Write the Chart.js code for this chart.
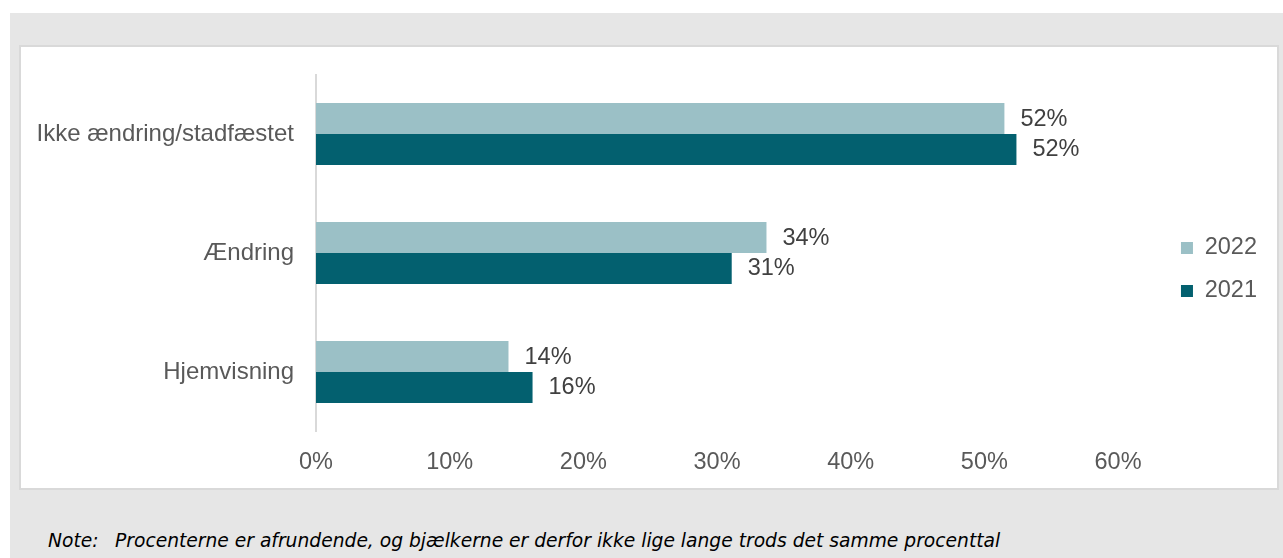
<!DOCTYPE html>
<html>
<head>
<meta charset="utf-8">
<script src="https://cdn.jsdelivr.net/npm/chart.js@4.4.1/dist/chart.umd.min.js"></script>
<style>
    body { margin: 0; background: #fff; width: 1283px; height: 558px; overflow: hidden; position: relative; }
    .frame { position: absolute; left: 10px; top: 13px; width: 1273px; height: 545px; background: #e6e6e6; }
    .panel { position: absolute; left: 19px; top: 45px; width: 1260px; height: 445px; box-sizing: border-box;
        border: 2px solid #d9d9d9; background: #fff; }
    .panel canvas { position: absolute; left: 0; top: 0; }
    .note { position: absolute; top: 530px; font: italic 18.7px "DejaVu Sans", Verdana, sans-serif;
        color: #000; white-space: nowrap; }
</style>
</head>
<body>
<div class="frame"></div>
<div class="panel"><canvas id="chart" width="1256" height="441"></canvas></div>
<div class="note" style="left: 48px">Note:</div>
<div class="note" style="left: 115px">Procenterne er afrundende, og bjælkerne er derfor ikke lige lange trods det samme procenttal</div>
<script>
const categories = ['Ikke ændring/stadfæstet', 'Ændring', 'Hjemvisning'];
const values2022 = [51.5, 33.7, 14.4];
const values2021 = [52.4, 31.1, 16.2];
const seriesNames = ['2022', '2021'];
const tickValues = [0, 10, 20, 30, 40, 50, 60];

const FONT = 'Liberation Sans, Arial, sans-serif';

// percent labels just past the end of every bar
const barLabels = {
    id: 'barLabels',
    afterDatasetsDraw(chart) {
        const ctx = chart.ctx;
        ctx.save();
        ctx.font = '23.5px ' + FONT;
        ctx.fillStyle = '#404040';
        ctx.textBaseline = 'middle';
        ctx.textAlign = 'left';
        chart.data.datasets.forEach((ds, i) => {
            chart.getDatasetMeta(i).data.forEach((bar, j) => {
                ctx.fillText(Math.round(ds.data[j]) + '%', bar.x + 16, bar.y + 0.5);
            });
        });
        ctx.restore();
    }
};

new Chart(document.getElementById('chart'), {
    type: 'bar',
    data: {
        labels: categories,
        datasets: [
            { label: seriesNames[0], data: values2022, backgroundColor: '#9bc0c6' },
            { label: seriesNames[1], data: values2021, backgroundColor: '#03606f' }
        ]
    },
    options: {
        indexAxis: 'y',
        responsive: false,
        animation: false,
        categoryPercentage: 0.52,
        barPercentage: 1,
        layout: { padding: { left: 0, top: 13, bottom: 9, right: 10 } },
        plugins: {
            tooltip: { enabled: false },
            legend: {
                position: 'right',
                labels: {
                    boxWidth: 12,
                    boxHeight: 12,
                    padding: 19.5,
                    color: '#595959',
                    font: { family: FONT, size: 23.5 }
                }
            }
        },
        scales: {
            x: {
                min: 0,
                max: 63.25,
                afterBuildTicks(scale) {
                    scale.ticks = tickValues.map((v) => ({ value: v }));
                },
                afterFit(scale) {
                    scale.height = 47.5;
                    scale.paddingLeft = 0;
                    scale.paddingRight = 0;
                },
                grid: { display: false, drawTicks: false },
                border: { display: false },
                ticks: {
                    padding: 17,
                    color: '#595959',
                    font: { family: FONT, size: 23.5 },
                    callback: (v) => v + '%'
                }
            },
            y: {
                afterFit(scale) {
                    scale.width = 295;
                    scale.paddingTop = 27.5;
                    scale.paddingBottom = 0;
                },
                grid: { display: false, drawTicks: false },
                border: { display: true, color: '#d9d9d9', width: 2 },
                ticks: {
                    padding: 22,
                    color: '#595959',
                    font: { family: FONT, size: 24 }
                }
            }
        }
    },
    plugins: [barLabels]
});
</script>
</body>
</html>
